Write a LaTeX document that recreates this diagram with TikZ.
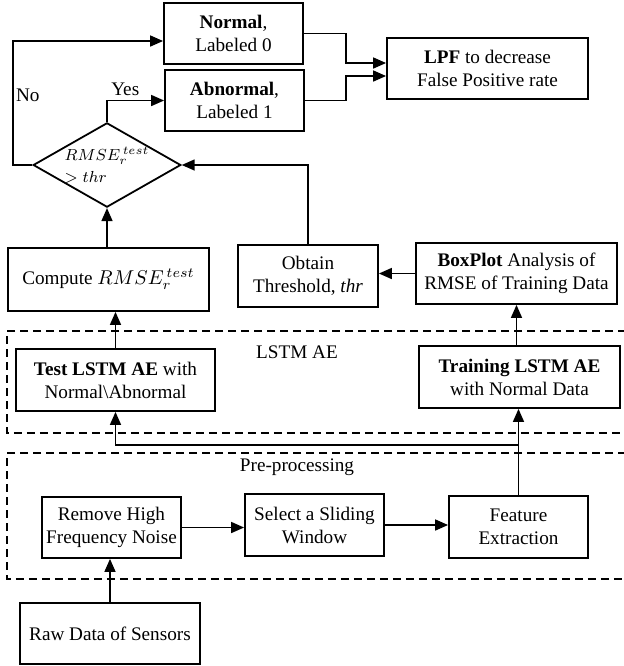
\documentclass[tikz,border=0pt]{standalone}
\usepackage{fontspec}
\setmainfont{Liberation Serif}
\usepackage{amsmath}
\usepackage{tikz}
\usetikzlibrary{shapes.geometric,arrows.meta,calc}

\begin{document}
\begin{tikzpicture}[x=0.5pt,y=-0.5pt,
	every node/.style={font=\fontsize{9.6}{11.5}\selectfont},
	box/.style={draw,line width=0.9pt,align=center,inner sep=0pt,minimum height=30.5pt},
	dec/.style={draw,line width=0.9pt,diamond,aspect=1.75,inner sep=0pt,minimum width=73.5pt,minimum height=42pt,align=left,font=\fontsize{8}{10}\selectfont},
	grp/.style={dashed,line width=0.8pt,dash pattern=on 4pt off 2.5pt},
	arr/.style={line width=0.8pt,-{Triangle[length=6.5pt,width=5.5pt]}}]
	\useasboundingbox (0,0) rectangle (624,666);
	% output side
	\node[box,minimum width=69.5pt] (nor) at (233.5,33.5) {\textbf{Normal},\\ Labeled 0};
	\node[box,minimum width=69.5pt] (abn) at (234.5,100.5) {\textbf{Abnormal},\\ Labeled 1};
	\node[box,minimum width=100.5pt] (lpf) at (487.5,68.5) {\textbf{LPF} to decrease\\ False Positive rate};
	\node[dec] (cmp) at (107,165) {$RMSE^{\,test}_{r}$\\[1pt] $>thr$};
	\node[box,minimum width=100.5pt,minimum height=31.5pt] (rmse) at (108.5,279.5) {Compute $RMSE^{\,test}_{r}$};
	\node[box,minimum width=70pt,minimum height=31pt] (thr) at (308,276) {Obtain\\ Threshold, \textit{thr}};
	\node[box,minimum width=100.5pt] (bxp) at (516.5,273.5) {\textbf{BoxPlot} Analysis of\\ RMSE of Training Data};
	% LSTM AE
	\node[box,minimum width=99.5pt,minimum height=31pt] (tst) at (115.5,380) {\textbf{Test LSTM AE} with\\ Normal\textbackslash Abnormal};
	\node[box,minimum width=100.5pt,minimum height=31pt] (trn) at (519.5,377) {\textbf{Training LSTM AE}\\ with Normal Data};
	% pre-processing
	\node[box,minimum width=69.5pt] (rem) at (111.5,527.5) {Remove High\\ Frequency Noise};
	\node[box,minimum width=69.5pt,minimum height=31pt] (win) at (314.5,525) {Select a Sliding\\ Window};
	\node[box,minimum width=69.5pt,minimum height=31pt] (fex) at (518.5,527) {Feature\\ Extraction};
	\node[box,minimum width=90pt] (raw) at (110,633.5) {Raw Data of Sensors};
	% groups
	\draw[grp] (626,331) -| (7,433) -- (626,433);
	\draw[grp] (626,453) -| (7,579) -- (626,579);
	\node (lstm) at (297,352) {LSTM AE};
	\node (pre) at (297,467) {Pre-processing};
	% connectors
	\draw[arr] (raw.north) -- (raw.north |- rem.south);
	\draw[arr] (rem.east) -- (win.west |- rem.east);
	\draw[arr] (win.east) -- (fex.west |- win.east);
	\draw[arr] (fex.north) -- (fex.north |- trn.south);
	\draw[arr] (fex.north) -- ++(0,-50) -| (tst.south);
	\draw[arr] (tst.north) -- (tst.north |- rmse.south);
	\draw[arr] (bxp.south |- trn.north) -- (bxp.south);
	\draw[arr] (bxp.west) -- (thr.east |- bxp.west);
	\draw[arr] (cmp.south |- rmse.north) -- (cmp.south);
	\draw[arr] (thr.north) |- (cmp.east);
	\draw[arr] (cmp.north) |- node[pos=0.66,above,inner sep=2pt] {Yes} (abn.west);
	\draw[arr] (cmp.west) -- ++(-19,0) |- node[pos=0.28,right,inner sep=1pt] {No} ($(nor.west)+(0,7.5)$);
	\draw[arr] (nor.east) -- ++(42,0) |- ($(lpf.west)+(0,-5.5)$);
	\draw[arr] (abn.east) -- ++(41,0) |- ($(lpf.west)+(0,7.5)$);
\end{tikzpicture}
\end{document}
